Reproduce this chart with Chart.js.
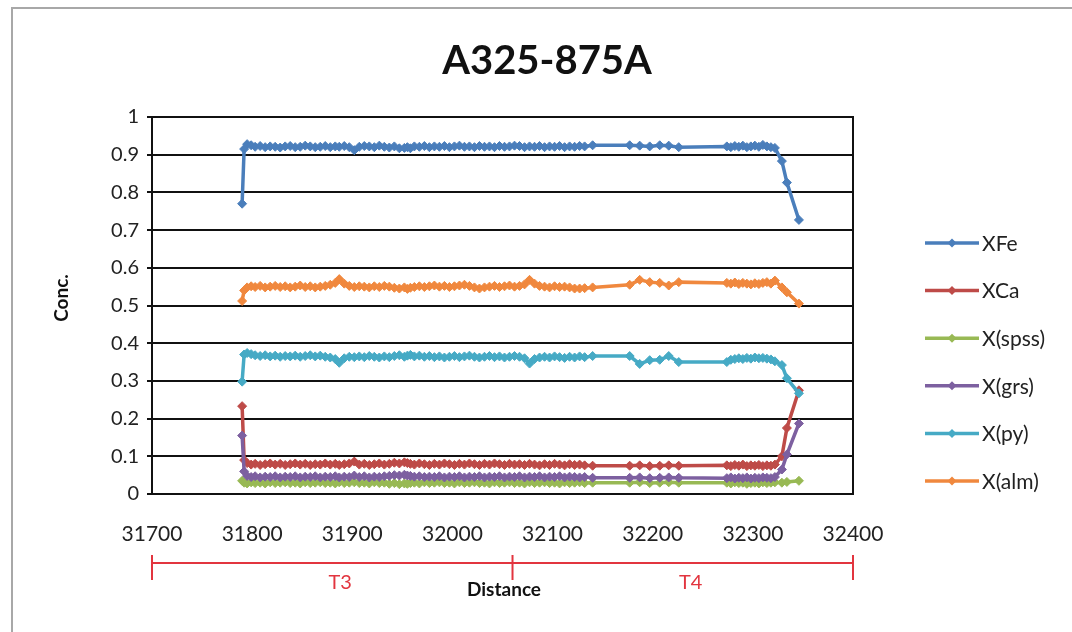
<!DOCTYPE html>
<html>
<head>
<meta charset="utf-8">
<title>A325-875A</title>
<script src="https://cdn.jsdelivr.net/npm/chart.js@4.4.0/dist/chart.umd.min.js"></script>
<style>
  html, body { margin: 0; padding: 0; background: #fff; overflow: hidden; }
  #wrap { position: relative; width: 1072px; height: 632px; }
  #frame { position: absolute; left: 11px; top: 7px; width: 1100px; height: 700px; border: 2px solid #a8a8a8; box-sizing: border-box; }
  #chart { position: absolute; left: 0; top: 0; }
</style>
</head>
<body>
<div id="wrap">
  <div id="frame"></div>
  <canvas id="chart" width="1072" height="632"></canvas>
</div>
<script>
// Distancia de cada punto de análisis
const distance = [
  31790, 31792, 31795, 31799, 31803, 31808, 31813, 31818, 31823, 31828,
  31833, 31838, 31843, 31848, 31853, 31858, 31863, 31868, 31873, 31878,
  31883, 31887, 31892, 31897, 31902, 31907, 31912, 31917, 31922, 31927,
  31932, 31937, 31942, 31947, 31952, 31955, 31958, 31962, 31967, 31972,
  31977, 31982, 31987, 31992, 31997, 32002, 32007, 32012, 32017, 32022,
  32027, 32032, 32037, 32042, 32047, 32052, 32057, 32062, 32067, 32072,
  32077, 32082, 32087, 32092, 32097, 32102, 32107, 32112, 32117, 32122,
  32127, 32132, 32140,
  32177, 32187, 32197, 32207, 32216, 32226,
  32274, 32278, 32282, 32286, 32290, 32294, 32298, 32302, 32306, 32310, 32314, 32318, 32322,
  32329, 32334, 32346
];

const xFe = [
  0.770, 0.915, 0.928, 0.925, 0.921, 0.923, 0.920, 0.922, 0.921, 0.919,
  0.922, 0.923, 0.920, 0.921, 0.924, 0.922, 0.920, 0.921, 0.923, 0.920,
  0.922, 0.921, 0.923, 0.920, 0.912, 0.921, 0.923, 0.922, 0.920, 0.924,
  0.921, 0.919, 0.922, 0.917, 0.918, 0.920, 0.917, 0.922, 0.921, 0.923,
  0.920, 0.922, 0.921, 0.923, 0.920, 0.922, 0.924, 0.921, 0.922, 0.920,
  0.923, 0.921, 0.922, 0.920, 0.923, 0.921, 0.922, 0.924, 0.923, 0.920,
  0.922, 0.921, 0.923, 0.920, 0.922, 0.921, 0.923, 0.920, 0.922, 0.921,
  0.923, 0.922, 0.925,
  0.925, 0.924, 0.922, 0.925, 0.924, 0.920,
  0.922, 0.920, 0.923, 0.921, 0.924, 0.920, 0.922, 0.924, 0.921, 0.926, 0.922, 0.920, 0.918,
  0.883, 0.826, 0.727
];

const xCa = [
  0.233, 0.090, 0.082, 0.078, 0.080, 0.077, 0.079, 0.081, 0.078, 0.080,
  0.077, 0.079, 0.081, 0.078, 0.080, 0.077, 0.079, 0.078, 0.081, 0.078,
  0.080, 0.077, 0.079, 0.081, 0.086, 0.078, 0.080, 0.077, 0.079, 0.081,
  0.078, 0.080, 0.083, 0.081, 0.084, 0.082, 0.080, 0.078, 0.081, 0.079,
  0.077, 0.080, 0.078, 0.081, 0.079, 0.077, 0.080, 0.078, 0.081, 0.079,
  0.077, 0.080, 0.078, 0.081, 0.079, 0.077, 0.080, 0.078, 0.079, 0.077,
  0.080, 0.078, 0.076, 0.079, 0.077, 0.080, 0.078, 0.076, 0.079, 0.077,
  0.078, 0.076, 0.075,
  0.075, 0.076, 0.074, 0.075, 0.076, 0.075,
  0.076, 0.074, 0.077, 0.075, 0.078, 0.074, 0.076, 0.075, 0.077, 0.074, 0.076, 0.075, 0.078,
  0.100, 0.175, 0.275
];

const xSpss = [
  0.035, 0.030, 0.028, 0.031, 0.029, 0.030, 0.028, 0.031, 0.029, 0.030,
  0.031, 0.029, 0.030, 0.028, 0.031, 0.029, 0.030, 0.031, 0.029, 0.030,
  0.028, 0.031, 0.029, 0.030, 0.031, 0.029, 0.030, 0.028, 0.031, 0.029,
  0.030, 0.027, 0.029, 0.026, 0.028, 0.027, 0.029, 0.030, 0.028, 0.031,
  0.029, 0.030, 0.031, 0.029, 0.030, 0.028, 0.031, 0.029, 0.030, 0.031,
  0.029, 0.030, 0.028, 0.031, 0.029, 0.030, 0.031, 0.029, 0.030, 0.028,
  0.031, 0.029, 0.030, 0.031, 0.029, 0.030, 0.028, 0.031, 0.029, 0.030,
  0.031, 0.029, 0.030,
  0.030, 0.031, 0.029, 0.030, 0.031, 0.030,
  0.030, 0.028, 0.031, 0.029, 0.030, 0.027, 0.029, 0.030, 0.028, 0.031, 0.029, 0.030, 0.031,
  0.030, 0.032, 0.035
];

const xGrs = [
  0.155, 0.060, 0.048, 0.045, 0.047, 0.044, 0.046, 0.045, 0.047, 0.044,
  0.046, 0.045, 0.047, 0.044, 0.046, 0.045, 0.047, 0.044, 0.046, 0.045,
  0.047, 0.044, 0.046, 0.045, 0.049, 0.045, 0.047, 0.044, 0.046, 0.045,
  0.047, 0.048, 0.050, 0.049, 0.051, 0.049, 0.048, 0.046, 0.047, 0.045,
  0.046, 0.045, 0.047, 0.044, 0.046, 0.045, 0.047, 0.044, 0.046, 0.045,
  0.047, 0.044, 0.046, 0.045, 0.047, 0.044, 0.046, 0.045, 0.047, 0.044,
  0.046, 0.045, 0.047, 0.044, 0.046, 0.045, 0.047, 0.044, 0.046, 0.045,
  0.044, 0.045, 0.043,
  0.043, 0.044, 0.042, 0.043, 0.044, 0.043,
  0.042, 0.044, 0.041, 0.043, 0.042, 0.044, 0.041, 0.043, 0.042, 0.044, 0.043, 0.042, 0.045,
  0.065, 0.105, 0.187
];

const xPy = [
  0.298, 0.370, 0.374, 0.371, 0.368, 0.366, 0.368, 0.365, 0.367, 0.364,
  0.366, 0.365, 0.367, 0.364, 0.366, 0.368, 0.365, 0.367, 0.364, 0.362,
  0.358, 0.348, 0.360, 0.364, 0.363, 0.365, 0.363, 0.366, 0.364, 0.362,
  0.365, 0.363, 0.366, 0.368, 0.364, 0.367, 0.369, 0.365, 0.367, 0.364,
  0.366, 0.363, 0.365, 0.362, 0.364, 0.366, 0.363, 0.365, 0.367, 0.364,
  0.362, 0.364, 0.366, 0.363, 0.365, 0.362, 0.364, 0.366, 0.364, 0.360,
  0.346, 0.358, 0.362, 0.364, 0.362, 0.365, 0.363, 0.361, 0.364, 0.362,
  0.365, 0.363, 0.366,
  0.366, 0.345, 0.355, 0.356, 0.366, 0.350,
  0.350, 0.356, 0.358, 0.360, 0.358, 0.361, 0.359, 0.362, 0.360, 0.361, 0.359, 0.357, 0.352,
  0.342, 0.307, 0.267
];

const xAlm = [
  0.512, 0.540, 0.548, 0.551, 0.549, 0.552, 0.548, 0.550, 0.552, 0.549,
  0.551, 0.548, 0.550, 0.553, 0.549, 0.551, 0.548, 0.550, 0.552, 0.555,
  0.560, 0.570, 0.558, 0.552, 0.549, 0.551, 0.550, 0.548, 0.551, 0.549,
  0.552, 0.550, 0.547, 0.545, 0.548, 0.544, 0.547, 0.549, 0.551, 0.549,
  0.551, 0.553, 0.550, 0.552, 0.549, 0.551, 0.553, 0.555, 0.552, 0.548,
  0.545, 0.548, 0.550, 0.552, 0.549, 0.551, 0.553, 0.550, 0.552, 0.556,
  0.568, 0.558, 0.552, 0.550, 0.548, 0.551, 0.549, 0.550, 0.548, 0.545,
  0.545, 0.546, 0.548,
  0.555, 0.568, 0.562, 0.560, 0.553, 0.562,
  0.560, 0.558, 0.561, 0.557, 0.560, 0.558, 0.556, 0.559, 0.557, 0.560, 0.562, 0.558, 0.566,
  0.548, 0.535, 0.505
];

const seriesNames = ["XFe", "XCa", "X(spss)", "X(grs)", "X(py)", "X(alm)"];
const seriesValues = [xFe, xCa, xSpss, xGrs, xPy, xAlm];
const seriesColors = ["#4a7ebb", "#be4b48", "#98b954", "#7d60a0", "#46aac5", "#f0883e"];

// Tramos T3 / T4 bajo el eje
const zoneBounds = [31700, 32060, 32400];
const zoneNames = ["T3", "T4"];

const FONT = "Lato, 'Open Sans', sans-serif";
const RED = "#e2353f";

const datasets = seriesNames.map((name, i) => ({
    label: name,
    data: distance.map((d, k) => ({ x: d, y: seriesValues[i][k] })),
    borderColor: seriesColors[i],
    backgroundColor: seriesColors[i],
    borderWidth: 3.5,
    pointStyle: "rectRot",
    pointRadius: 4.5,
    pointBorderWidth: 1,
    tension: 0,
    order: seriesNames.length - i // la última serie encima, como en Excel
}));

const decor = {
    id: "decor",
    beforeDatasetsDraw(chart) {
        const { ctx, chartArea: a } = chart;
        ctx.save();
        ctx.strokeStyle = "#111";
        ctx.lineWidth = 2;
        ctx.strokeRect(a.left, a.top, a.right - a.left, a.bottom - a.top);
        ctx.restore();
    },
    afterDraw(chart) {
        const { ctx } = chart;
        const xs = chart.scales.x;
        ctx.save();

        // titulo
        ctx.fillStyle = "#111";
        ctx.textAlign = "center";
        ctx.textBaseline = "middle";
        ctx.font = "bold 40px " + FONT;
        ctx.fillText("A325-875A", 547, 61);

        // titulo eje Y
        ctx.save();
        ctx.translate(62, 298);
        ctx.rotate(-Math.PI / 2);
        ctx.font = "bold 19px " + FONT;
        ctx.fillText("Conc.", 0, 0);
        ctx.restore();

        // titulo eje X
        ctx.font = "bold 19px " + FONT;
        ctx.fillText("Distance", 504, 590);

        // tramos
        ctx.strokeStyle = RED;
        ctx.fillStyle = RED;
        ctx.lineWidth = 2;
        const px = zoneBounds.map(v => xs.getPixelForValue(v));
        ctx.beginPath();
        ctx.moveTo(px[0], 563);
        ctx.lineTo(px[px.length - 1], 563);
        px.forEach(p => {
            ctx.moveTo(p, 555);
            ctx.lineTo(p, 580);
        });
        ctx.stroke();
        ctx.font = "20px " + FONT;
        zoneNames.forEach((name, i) => {
            ctx.fillText(name, (px[i] + px[i + 1]) / 2 + 8, 583);
        });

        // leyenda
        ctx.textAlign = "left";
        ctx.font = "21px " + FONT;
        seriesNames.forEach((name, i) => {
            const y = 243 + i * 47.6;
            ctx.strokeStyle = seriesColors[i];
            ctx.fillStyle = seriesColors[i];
            ctx.lineWidth = 3.5;
            ctx.beginPath();
            ctx.moveTo(925, y);
            ctx.lineTo(979, y);
            ctx.stroke();
            ctx.beginPath();
            ctx.moveTo(952, y - 4.5);
            ctx.lineTo(956.5, y);
            ctx.lineTo(952, y + 4.5);
            ctx.lineTo(947.5, y);
            ctx.closePath();
            ctx.fill();
            ctx.fillStyle = "#222";
            ctx.fillText(name, 982, y + 1);
        });
        ctx.restore();
    }
};

new Chart(document.getElementById("chart"), {
    type: "line",
    data: { datasets: datasets },
    options: {
        responsive: false,
        animation: false,
        layout: { padding: { top: 117, right: 219, bottom: 0, left: 0 } },
        plugins: {
            legend: { display: false },
            title: { display: false },
            tooltip: { enabled: false }
        },
        scales: {
            x: {
                type: "linear",
                min: 31700,
                max: 32400,
                afterFit: s => { s.height = 138; },
                grid: { display: false, drawTicks: false },
                border: { display: true, color: "#111", width: 2 },
                ticks: {
                    stepSize: 100,
                    padding: 28,
                    color: "#222",
                    font: { family: FONT, size: 21 },
                    callback: v => String(v)
                }
            },
            y: {
                min: 0,
                max: 1,
                afterFit: s => { s.width = 152; },
                grid: { color: "#111", lineWidth: 2, drawTicks: true, tickLength: 5 },
                border: { display: true, color: "#111", width: 2 },
                ticks: {
                    stepSize: 0.1,
                    padding: 8,
                    color: "#222",
                    font: { family: FONT, size: 20 },
                    callback: v => String(Number(v.toFixed(1)))
                }
            }
        }
    },
    plugins: [decor]
});
</script>
</body>
</html>
